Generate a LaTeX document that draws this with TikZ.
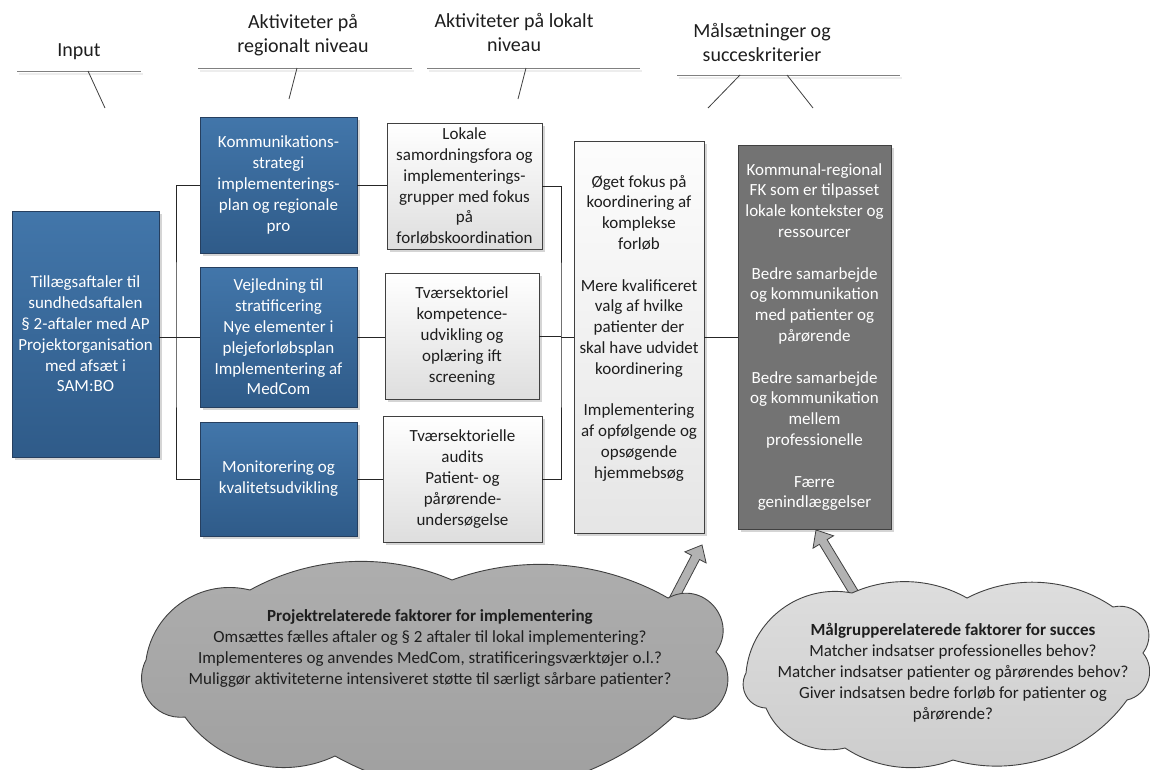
\documentclass[tikz,border=0pt]{standalone}
\usepackage{fontspec}
\setmainfont{Carlito}
\usetikzlibrary{calc,shadows}
\definecolor{bluetop}{RGB}{66,118,170}
\definecolor{bluebot}{RGB}{47,91,137}
\definecolor{blueedge}{RGB}{38,63,95}
\definecolor{edgegray}{RGB}{64,64,64}
\definecolor{goalgray}{RGB}{115,115,115}
\definecolor{cloudAtop}{RGB}{174,174,174}
\definecolor{cloudAbot}{RGB}{158,158,158}
\definecolor{cloudBtop}{RGB}{222,222,222}
\definecolor{cloudBbot}{RGB}{204,204,204}
\definecolor{arrowfill}{RGB}{178,178,178}
\definecolor{linegray}{RGB}{128,128,128}
\definecolor{txt}{RGB}{30,30,30}
\tikzset{
  basebox/.style={draw, line width=0.9pt, inner sep=0pt, align=center,
    font=\fontsize{17}{20.8}\selectfont,
    drop shadow={shadow xshift=3pt, shadow yshift=-3pt, fill=black!32}},
  bluebox/.style={basebox, draw=blueedge, top color=bluetop, bottom color=bluebot, text=white},
  localbox/.style={basebox, draw=edgegray, top color=white, bottom color=black!13, text=txt},
  outbox/.style={basebox, draw=edgegray, top color=black!1, bottom color=black!10, text=txt},
  goalbox/.style={basebox, draw=edgegray, fill=goalgray, text=white},
  conn/.style={draw=black!85, line width=0.9pt},
  hdr/.style={align=center, inner sep=0pt, text=txt, font=\fontsize{20}{24.4}\selectfont},
  hline/.style={draw=linegray, line width=1pt},
  hshadow/.style={draw=black!7, line width=1.5pt},
  leader/.style={draw=black!75, line width=0.8pt},
  cloudA/.style={draw=edgegray, line width=0.9pt, top color=cloudAtop, bottom color=cloudAbot},
  cloudB/.style={draw=edgegray, line width=0.9pt, top color=cloudBtop, bottom color=cloudBbot},
  cloudtext/.style={align=center, inner sep=0pt, text=txt, font=\fontsize{17}{21}\selectfont},
  blockarrow/.style={draw=edgegray, line width=0.8pt, fill=arrowfill, line join=miter},
}
\newcommand\blkarrow[2]{%
  \coordinate (#2h) at ($(#2)!14pt!(#1)$);
  \draw[blockarrow] ($(#1)!4.5pt!90:(#2)$) -- ($(#2h)!4.5pt!-90:(#1)$)
    -- ($(#2h)!12pt!-90:(#1)$) -- (#2) -- ($(#2h)!12pt!90:(#1)$)
    -- ($(#2h)!4.5pt!90:(#1)$) -- ($(#1)!4.5pt!-90:(#2)$) -- cycle;
}
\begin{document}
\begin{tikzpicture}[x=1pt, y=-1pt]
\useasboundingbox (0,0) rectangle (1150,769);
\fill[white] (0,0) rectangle (1150,769);

% headers
\node[hdr] (hin) at (79,52) {Input};
\node[hdr] (hreg) at (303,35) {Aktiviteter på\\regionalt niveau};
\node[hdr] (hloc) at (514,32.5) {Aktiviteter på lokalt\\niveau};
\node[hdr] (hgoal) at (762,42.5) {Målsætninger og\\succeskriterier};

\coordinate (c1a) at (17,71);  \coordinate (c1b) at (141,71);
\coordinate (c2a) at (198,68); \coordinate (c2b) at (412,68);
\coordinate (c3a) at (427,68); \coordinate (c3b) at (640,68);
\coordinate (c4a) at (677,75); \coordinate (c4b) at (900,75);
\draw[hshadow] ($(c1a)+(2,3)$) -- ($(c1b)+(2,3)$);
\draw[hshadow] ($(c2a)+(2,3)$) -- ($(c2b)+(2,3)$);
\draw[hshadow] ($(c3a)+(2,3)$) -- ($(c3b)+(2,3)$);
\draw[hshadow] ($(c4a)+(2,3)$) -- ($(c4b)+(2,3)$);
\draw[hline] (c1a) -- (c1b);
\draw[hline] (c2a) -- (c2b);
\draw[hline] (c3a) -- (c3b);
\draw[hline] (c4a) -- (c4b);
\coordinate (l1s) at (88,71);  \coordinate (l1e) at (105,108);
\coordinate (l2s) at (297,68); \coordinate (l2e) at (289,99);
\coordinate (l3s) at (526,68); \coordinate (l3e) at (518,99);
\coordinate (l4s) at (740,75); \coordinate (l4e) at (708,108);
\coordinate (l5s) at (787,75); \coordinate (l5e) at (813,108);
\draw[leader] (l1s) -- (l1e);
\draw[leader] (l2s) -- (l2e);
\draw[leader] (l3s) -- (l3e);
\draw[leader] (l4s) -- (l4e);
\draw[leader] (l5s) -- (l5e);

% boxes
\node[bluebox, minimum width=147pt, minimum height=246pt] (inp) at (85.5,334)
  {Tillægsaftaler til\\sundhedsaftalen\\§ 2-aftaler med AP\\Projektorganisation\\med afsæt i\\SAM:BO};
\node[bluebox, minimum width=157pt, minimum height=136pt] (b1) at (278.5,185)
  {Kommunikations-\\strategi\\implementerings-\\plan og regionale\\pro};
\node[bluebox, minimum width=157pt, minimum height=140pt] (b2) at (278.5,337)
  {Vejledning til\\stratificering\\Nye elementer i\\plejeforløbsplan\\Implementering af\\MedCom};
\node[bluebox, minimum width=157pt, minimum height=114pt] (b3) at (278.5,479)
  {Monitorering og\\kvalitetsudvikling};

\node[localbox, minimum width=155pt, minimum height=126pt] (l1) at (464.5,186)
  {Lokale\\samordningsfora og\\implementerings-\\grupper med fokus\\på\\forløbskoordination};
\node[localbox, minimum width=154pt, minimum height=126pt] (l2) at (462,336)
  {Tværsektoriel\\kompetence-\\udvikling og\\oplæring ift\\screening};
\node[localbox, minimum width=159pt, minimum height=126pt] (l3) at (462.5,479)
  {Tværsektorielle\\audits\\Patient- og\\pårørende-\\undersøgelse};

\node[outbox, minimum width=130pt, minimum height=392pt] (out) at (639,337)
  {Øget fokus på\\koordinering af\\komplekse\\forløb\\[20.8pt]Mere kvalificeret\\valg af hvilke\\patienter der\\skal have udvidet\\koordinering\\[20.8pt]Implementering\\af opfølgende og\\opsøgende\\hjemmebsøg\\\mbox{}};

\node[goalbox, minimum width=153pt, minimum height=384pt] (goal) at (814.5,337)
  {Kommunal-regional\\FK som er tilpasset\\lokale kontekster og\\ressourcer\\[20.8pt]Bedre samarbejde\\og kommunikation\\med patienter og\\pårørende\\[20.8pt]Bedre samarbejde\\og kommunikation\\mellem\\professionelle\\[20.8pt]Færre\\genindlæggelser};

% connectors
\coordinate (bx) at (176,337);
\draw[conn] (b1.west) -| (bx) |- (b3.west);
\draw[conn] (inp.east |- b2.west) -- (b2.west);
\draw[conn] (b1.east) -- (b1.east -| l1.west);
\draw[conn] (b2.east) -- (b2.east -| l2.west);
\draw[conn] (b3.east) -- (b3.east -| l3.west);
\coordinate (lx) at (561,337);
\draw[conn] (l1.east) -| (lx) |- (l3.east);
\draw[conn] (l2.east) -- (l2.east -| lx);
\draw[conn] (lx) -- (lx -| out.west);
\draw[conn] (out.east) -- (out.east -| goal.west);

% block arrows
\coordinate (a1s) at (668,610); \coordinate (a1e) at (702,545);
\coordinate (a2s) at (856,596); \coordinate (a2e) at (816,530);
\blkarrow{a1s}{a1e}
\blkarrow{a2s}{a2e}

% clouds
\begin{scope}
\clip (0,0) rectangle (1150,769);
\draw[cloudA] (146,660) to[bend left=48, looseness=1.02] (250,590)
  to[bend left=26, looseness=.9] (452,580)
  to[bend left=25, looseness=.89] (668,598)
  to[bend left=77, looseness=1.4] (716,652)
  to[bend left=79, looseness=1.42] (674,716)
  to[bend left=36, looseness=.94] (335,756)
  to[bend left=40, looseness=.96] (185,717)
  to[bend left=62, looseness=1.16] (146,660) -- cycle;
\draw[cloudB] (746,673) to[bend left=48, looseness=1.02] (852,593)
  to[bend left=27, looseness=.9] (967,598)
  to[bend left=31, looseness=.91] (1113,607)
  to[bend left=70, looseness=1.27] (1143,653)
  to[bend left=58, looseness=1.12] (1127,700)
  to[bend left=35, looseness=.93] (953,760)
  to[bend left=27, looseness=.9] (845,748)
  to[bend left=40, looseness=.96] (766,708)
  to[bend left=58, looseness=1.12] (746,673) -- cycle;
\end{scope}

\node[cloudtext] (t1) at (430,648.5)
  {\textbf{Projektrelaterede faktorer for implementering}\\Omsættes fælles aftaler og § 2 aftaler til lokal implementering?\\Implementeres og anvendes MedCom, stratificeringsværktøjer o.l.?\\Muliggør aktiviteterne intensiveret støtte til særligt sårbare patienter?};
\node[cloudtext] (t2) at (953,672.5)
  {\textbf{Målgrupperelaterede faktorer for succes}\\Matcher indsatser professionelles behov?\\Matcher indsatser patienter og pårørendes behov?\\Giver indsatsen bedre forløb for patienter og\\pårørende?};
\end{tikzpicture}
\end{document}
